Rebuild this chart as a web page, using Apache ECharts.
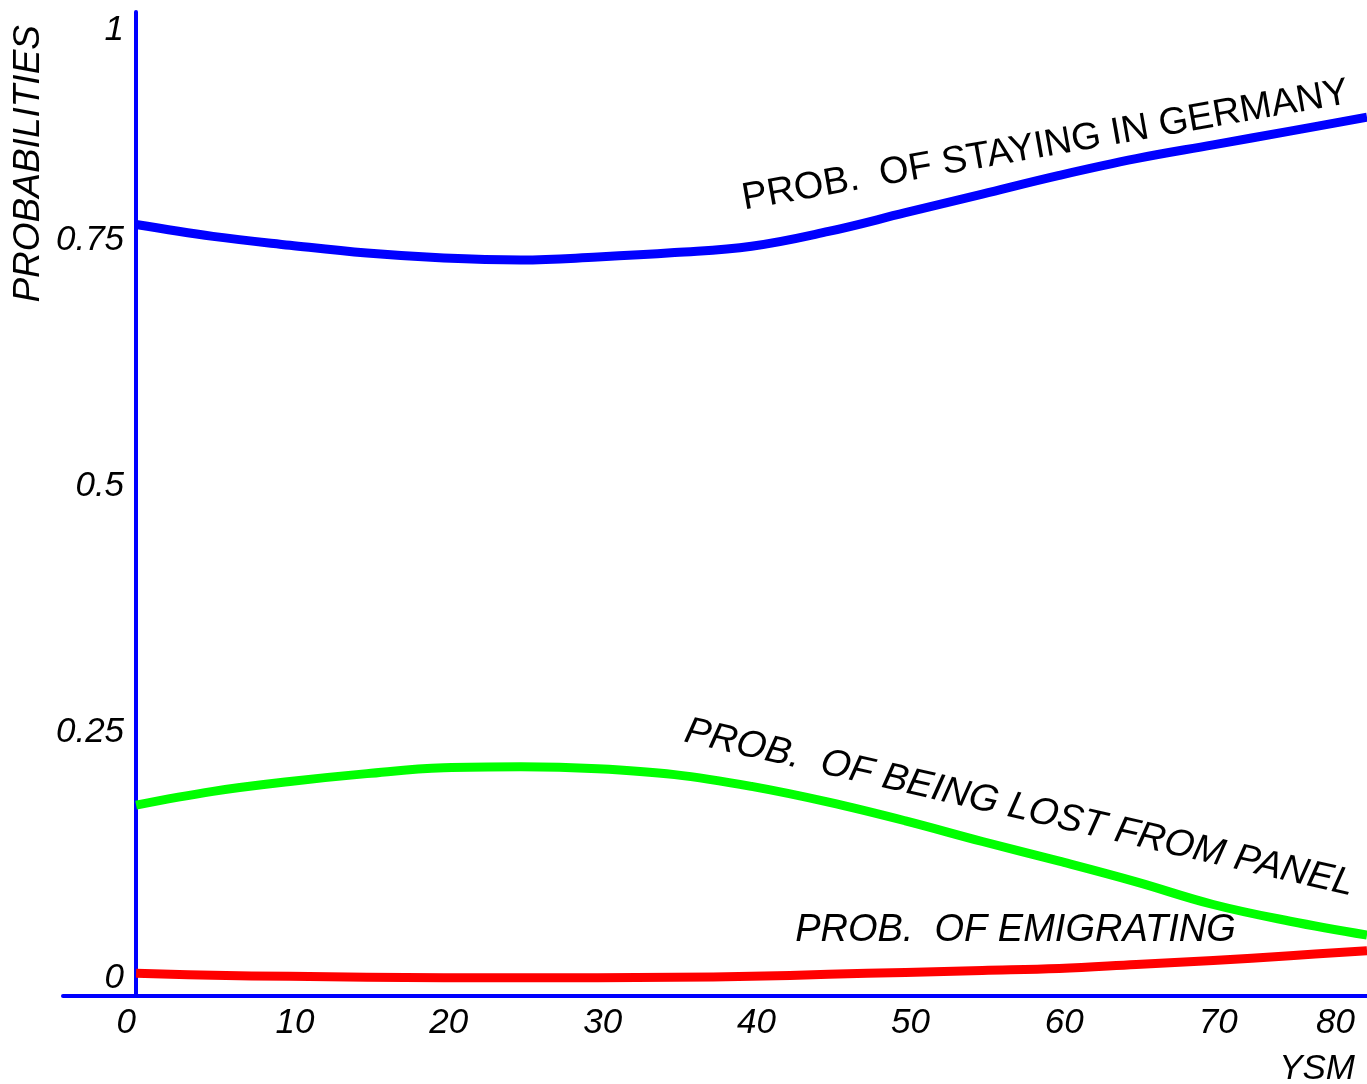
<!DOCTYPE html>
<html>
<head>
<meta charset="utf-8">
<script src="https://cdn.jsdelivr.net/npm/echarts@6/dist/echarts.min.js"></script>
<style>
  html, body { margin: 0; padding: 0; background: #fff; }
  #chart { width: 1367px; height: 1084px; }
</style>
</head>
<body>
<div id="chart"></div>
<script>
// ---- data ----
const ysm = [0, 5, 10, 15, 20, 25, 30, 35, 40, 45, 50, 55, 60, 65, 70, 75, 80];
const probStaying = [0.784, 0.772, 0.763, 0.755, 0.750, 0.748, 0.751, 0.7555, 0.762, 0.777, 0.796, 0.815, 0.834, 0.851, 0.865, 0.879, 0.893];
const probLost    = [0.194, 0.208, 0.218, 0.226, 0.232, 0.233, 0.231, 0.225, 0.213, 0.197, 0.178, 0.157, 0.137, 0.116, 0.093, 0.076, 0.062];
const probEmig    = [0.023, 0.021, 0.020, 0.019, 0.0186, 0.0186, 0.0186, 0.019, 0.020, 0.022, 0.024, 0.026, 0.028, 0.032, 0.036, 0.041, 0.046];

const xTicks = [0, 10, 20, 30, 40, 50, 60, 70, 80];
const yTicks = [0, 0.25, 0.5, 0.75, 1];

const curveNames = [
  'PROB.  OF STAYING IN GERMANY',
  'PROB.  OF BEING LOST FROM PANEL',
  'PROB.  OF EMIGRATING'
];
// annotation anchors, in data coordinates (YSM, probability)
const labelAnchors = [[59.1, 0.864], [57.4, 0.191], [57.15, 0.067]];

const xTitle = 'YSM';
const yTitle = 'PROBABILITIES';

// ---- chart ----
const FONT = '"Liberation Sans", Arial, Helvetica, sans-serif';
const GRID_LEFT = 63;
const chart = echarts.init(document.getElementById('chart'), null, { renderer: 'canvas' });

function pairs(ys) { return ysm.map((x, i) => [x, ys[i]]); }

function curve(name, values, color, anchor, rotate, italic) {
  return {
    name: name,
    type: 'line',
    data: pairs(values),
    showSymbol: false,
    smooth: 0.4,
    clip: true,
    lineStyle: { color: color, width: 9, cap: 'butt', join: 'round' },
    itemStyle: { color: color },
    silent: true,
    markPoint: {
      silent: true,
      symbol: 'circle',
      symbolSize: 0,
      itemStyle: { color: 'transparent' },
      data: [{ coord: anchor }],
      label: {
        show: true,
        position: 'inside',
        formatter: name,
        rotate: rotate,
        fontFamily: FONT,
        fontSize: 38,
        fontStyle: italic ? 'italic' : 'normal',
        color: '#000',
        align: 'center',
        verticalAlign: 'middle'
      }
    }
  };
}

const option = {
  backgroundColor: '#ffffff',
  animation: false,
  grid: {
    left: GRID_LEFT, right: 0, top: 12, bottom: 88,
    containLabel: false,
    outerBoundsMode: 'none'
  },
  xAxis: {
    type: 'value',
    min: -4.75,
    max: 80,
    name: xTitle,
    nameLocation: 'end',
    nameGap: 0,
    nameMoveOverlap: false,
    nameTextStyle: {
      fontFamily: FONT, fontSize: 35, fontStyle: 'italic', color: '#000',
      align: 'right', verticalAlign: 'top', padding: [56, 12, 0, 0]
    },
    axisLine: { show: true, onZero: true, lineStyle: { color: '#0000ff', width: 4 } },
    axisTick: { show: false },
    splitLine: { show: false },
    axisLabel: {
      customValues: xTicks,
      showMinLabel: true,
      showMaxLabel: true,
      alignMinLabel: 'right',
      alignMaxLabel: 'right',
      fontFamily: FONT, fontSize: 35, fontStyle: 'italic', color: '#000',
      margin: 10,
      padding: [0, 0, 0, 10],
      formatter: function (v) { return v === xTicks[xTicks.length - 1] ? '{end|' + v + '}' : String(v); },
      rich: {
        end: { fontFamily: FONT, fontSize: 35, fontStyle: 'italic', color: '#000', padding: [0, 12, 0, 0] }
      }
    }
  },
  yAxis: {
    type: 'value',
    min: 0,
    max: 1,
    offset: 0,
    name: yTitle,
    nameLocation: 'end',
    nameGap: 0,
    nameRotate: 90,
    nameMoveOverlap: false,
    nameTextStyle: {
      fontFamily: FONT, fontSize: 37, fontStyle: 'italic', color: '#000',
      align: 'right', verticalAlign: 'bottom', padding: [0, 13, 89, 0]
    },
    axisLine: { show: true, onZero: false, lineStyle: { color: '#0000ff', width: 4 } },
    axisTick: { show: false },
    splitLine: { show: false },
    axisLabel: {
      customValues: yTicks,
      showMinLabel: true,
      showMaxLabel: true,
      fontFamily: FONT, fontSize: 35, fontStyle: 'italic', color: '#000',
      margin: 12,
      lineHeight: 36,
      verticalAlign: 'bottom',
      verticalAlignMaxLabel: 'top'
    }
  },
  series: [
    curve(curveNames[0], probStaying, '#0000ff', labelAnchors[0], 10, false),
    curve(curveNames[1], probLost, '#00ff00', labelAnchors[1], -13, true),
    curve(curveNames[2], probEmig, '#ff0000', labelAnchors[2], 0, true)
  ]
};

chart.setOption(option);
// place the y axis (line + labels + name) where x = 0 falls on the x scale
const xZeroPx = chart.convertToPixel({ xAxisIndex: 0 }, 0);
chart.setOption({ yAxis: { offset: -(xZeroPx - GRID_LEFT) } });
</script>
</body>
</html>
